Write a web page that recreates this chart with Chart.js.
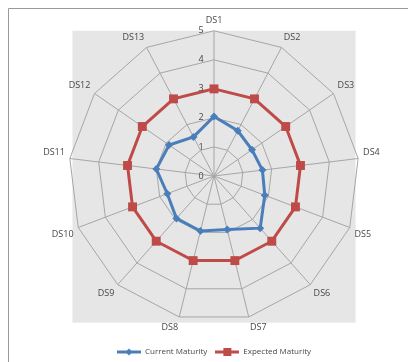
<!DOCTYPE html>
<html>
<head>
<meta charset="utf-8">
<script src="https://cdn.jsdelivr.net/npm/chart.js@4/dist/chart.umd.min.js"></script>
<style>
  html, body { margin: 0; padding: 0; background: #fff; }
  #wrap { width: 408px; height: 362px; position: relative; }
</style>
</head>
<body>
<div id="wrap"><canvas id="chartCanvas"></canvas></div>
<script>
// data
const categories = ['DS1', 'DS2', 'DS3', 'DS4', 'DS5', 'DS6', 'DS7', 'DS8', 'DS9', 'DS10', 'DS11', 'DS12', 'DS13'];
const currentMaturity = [2.05, 1.76, 1.59, 1.68, 1.87, 2.4, 1.9, 1.95, 1.95, 1.72, 2.0, 1.88, 1.52];
const expectedMaturity = [3, 3, 3, 3, 3, 3, 3, 3, 3, 3, 3, 3, 3];
const tickValues = [0, 1, 2, 3, 4, 5];

const BLUE = '#4a7ebb';
const RED = '#be4b48';
const TEXT = '#474747';
const FONT = "'Open Sans', sans-serif";

// little line + marker images for the legend
function legendIcon(color, shape) {
  const c = document.createElement('canvas');
  c.width = 24; c.height = 10;
  const g = c.getContext('2d');
  g.strokeStyle = color;
  g.lineWidth = 3;
  g.beginPath(); g.moveTo(0, 5); g.lineTo(24, 5); g.stroke();
  g.fillStyle = color;
  g.beginPath();
  if (shape === 'diamond') {
    g.moveTo(12, 1.5); g.lineTo(15.5, 5); g.lineTo(12, 8.5); g.lineTo(8.5, 5);
  } else {
    g.rect(8, 1, 8, 8);
  }
  g.closePath(); g.fill();
  return c;
}
const icons = [legendIcon(BLUE, 'diamond'), legendIcon(RED, 'square')];

// grey plot area, outer frame and the 0..5 labels beside the DS1 axis
const backdrop = {
  id: 'backdrop',
  afterLayout(chart) {
    // nudge the legend a little lower, like the original
    chart.legend.top += 4;
    chart.legend.bottom += 4;
  },
  beforeDraw(chart) {
    const { ctx } = chart;
    const r = chart.scales.r;
    ctx.save();
    ctx.fillStyle = '#fff';
    ctx.fillRect(0, 0, chart.width, chart.height);
    ctx.strokeStyle = '#9a9a9a';
    ctx.lineWidth = 1;
    ctx.beginPath();
    ctx.moveTo(8.5, chart.height);
    ctx.lineTo(8.5, 8.5);
    ctx.lineTo(chart.width, 8.5);
    ctx.stroke();
    const R = r.drawingArea;
    ctx.fillStyle = '#e6e6e6';
    ctx.fillRect(r.xCenter - R * 0.975, r.yCenter - R, R * 1.95, R * 2.01);
    ctx.restore();
  },
  afterDatasetsDraw(chart) {
    const { ctx } = chart;
    const r = chart.scales.r;
    ctx.save();
    ctx.fillStyle = TEXT;
    ctx.font = '9px ' + FONT;
    ctx.textAlign = 'center';
    ctx.textBaseline = 'middle';
    tickValues.forEach(v => {
      const d = r.getDistanceFromCenterForValue(v);
      ctx.fillText(String(v), r.xCenter - 13, r.yCenter - d);
    });
    ctx.restore();
  }
};

new Chart(document.getElementById('chartCanvas'), {
  type: 'radar',
  data: {
    labels: categories,
    datasets: [
      {
        label: 'Current Maturity',
        data: currentMaturity,
        borderColor: BLUE,
        backgroundColor: BLUE,
        borderWidth: 3,
        pointStyle: 'rectRot',
        pointRadius: 4,
        pointBackgroundColor: BLUE,
        pointBorderWidth: 0,
        fill: false
      },
      {
        label: 'Expected Maturity',
        data: expectedMaturity,
        borderColor: RED,
        backgroundColor: RED,
        borderWidth: 3,
        pointStyle: 'rect',
        pointRadius: 6.3,
        pointBackgroundColor: RED,
        pointBorderWidth: 0,
        fill: false
      }
    ]
  },
  options: {
    responsive: true,
    maintainAspectRatio: false,
    animation: false,
    layout: { padding: { top: 13, left: 20, right: 0, bottom: 0 } },
    elements: { line: { tension: 0 } },
    scales: {
      r: {
        min: 0,
        max: 5,
        ticks: { stepSize: 1, display: false },
        grid: { color: '#a6a6a6', lineWidth: 1 },
        angleLines: { color: '#a6a6a6', lineWidth: 1 },
        pointLabels: {
          color: TEXT,
          font: { family: FONT, size: 9 },
          padding: 5
        }
      }
    },
    plugins: {
      legend: {
        position: 'bottom',
        labels: {
          usePointStyle: true,
          pointStyleWidth: 24,
          color: TEXT,
          font: { family: FONT, size: 8 },
          padding: 8,
          generateLabels: (chart) => {
            const items = Chart.defaults.plugins.legend.labels.generateLabels(chart);
            items.forEach((it, i) => { it.pointStyle = icons[i]; });
            return items;
          }
        }
      },
      tooltip: { enabled: false }
    }
  },
  plugins: [backdrop]
});
</script>
</body>
</html>
